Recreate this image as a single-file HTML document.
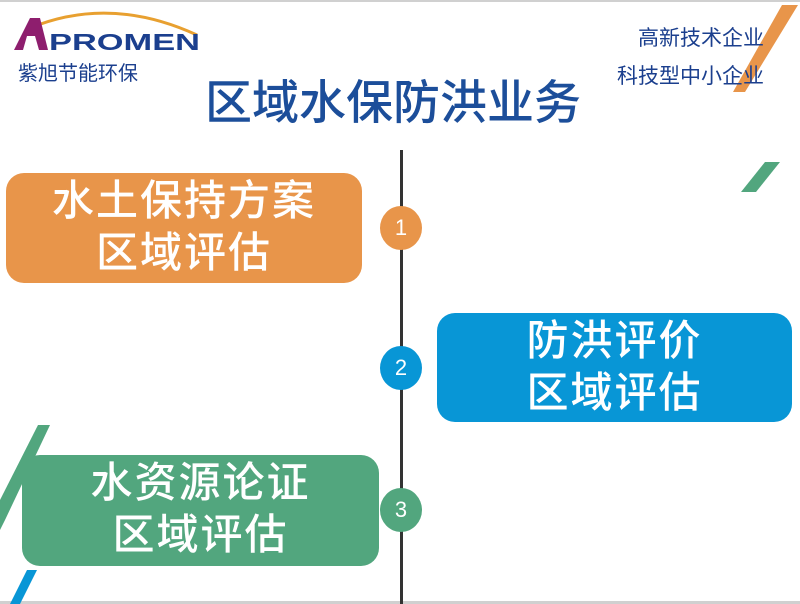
<!DOCTYPE html>
<html><head><meta charset="utf-8"><style>
body{margin:0;width:800px;height:604px;overflow:hidden;background:#fff;position:relative;font-family:"Liberation Sans","Noto Sans CJK SC",sans-serif}
.a{position:absolute}
.box{position:absolute;border-radius:18px;color:#fff;text-align:center;font-size:42px;line-height:52px;letter-spacing:2px;box-sizing:border-box;padding-top:2px;font-weight:500}
.c{position:absolute;width:42px;height:44px;border-radius:50%;color:#fff;font-size:22px;line-height:44px;text-align:center}
</style></head><body>
<div class="a" style="left:0;top:0;width:800px;height:2px;background:#d0d0d0"></div>
<div class="a" style="left:0;top:601px;width:800px;height:3px;background:#d0d0d0"></div>
<svg class="a" style="left:0;top:0" width="800" height="604">
<polygon points="782,5 798,5 745,92 733,92" fill="#E8954A"/>
<polygon points="765,162 780,162 756,192 741,192" fill="#52A67E"/>
<polygon points="38,425 50,425 5,520 0,530 0,500" fill="#52A67E"/>
<polygon points="27,570 37,570 20,604 10,604" fill="#0896D6"/>
<path d="M30 28 Q110 -5 197 35" stroke="#E8A030" stroke-width="3" fill="none"/>
<polygon points="14,50 30,18 40,18 48,50 39,50 35,36 27,36 23,50" fill="#8E1E6E"/>
<text x="49" y="50" font-family="Liberation Sans" font-size="23" font-weight="bold" fill="#1B3F8E" textLength="151" lengthAdjust="spacingAndGlyphs">PROMEN</text>
<rect x="400" y="150" width="3" height="454" fill="#333"/>
</svg>
<div class="a" style="left:18px;top:57px;font-size:20px;color:#1B3F8E">紫旭节能环保</div>
<div class="a" style="left:205px;top:64px;font-size:47px;color:#1C4E9A;font-weight:500">区域水保防洪业务</div>
<div class="a" style="left:638px;top:22px;font-size:21px;color:#1B3F8E">高新技术企业</div>
<div class="a" style="left:617px;top:60px;font-size:21px;color:#1B3F8E">科技型中小企业</div>
<div class="box" style="left:6px;top:173px;width:356px;height:110px;background:#E8954A">水土保持方案<br>区域评估</div>
<div class="box" style="left:437px;top:313px;width:355px;height:109px;background:#0896D6">防洪评价<br>区域评估</div>
<div class="box" style="left:22px;top:455px;width:357px;height:111px;background:#52A67E">水资源论证<br>区域评估</div>
<div class="c" style="left:380px;top:206px;background:#E8954A">1</div>
<div class="c" style="left:380px;top:346px;background:#0896D6">2</div>
<div class="c" style="left:380px;top:488px;background:#52A67E">3</div>
</body></html>
